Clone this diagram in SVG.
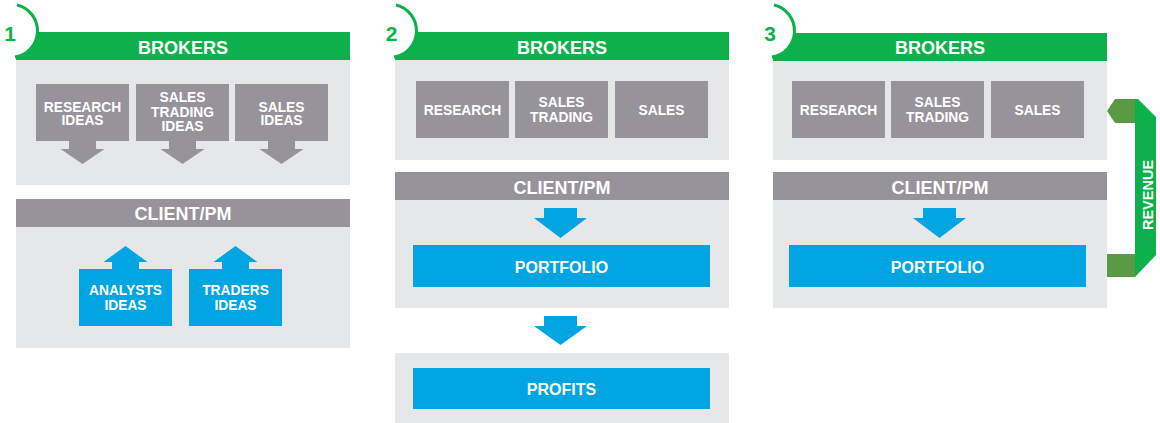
<svg xmlns="http://www.w3.org/2000/svg" width="1160" height="423" viewBox="0 0 1160 423">
<style>
.hdrG{fill:#0db14b}
.hdrP{fill:#97939b}
.bg{fill:#e6e7e9}
.box{fill:#97939b}
.blue{fill:#00a5e1}
.arc{fill:none;stroke:#0db14b;stroke-width:3}
.cut{fill:#fff}
.num{font-family:"Liberation Sans",Arial,sans-serif;font-weight:bold;font-size:21px;fill:#0db14b;text-anchor:middle}
.ht{font-family:"Liberation Sans",Arial,sans-serif;font-weight:bold;font-size:18px;fill:#fff;text-anchor:middle}
.bt{font-family:"Liberation Sans",Arial,sans-serif;font-weight:bold;font-size:13.8px;fill:#fff;text-anchor:middle}
.pt{font-family:"Liberation Sans",Arial,sans-serif;font-weight:bold;font-size:16px;fill:#fff;text-anchor:middle}
.rt{font-family:"Liberation Sans",Arial,sans-serif;font-weight:bold;font-size:14.5px;fill:#fff;text-anchor:middle}
.ga{fill:#97939b}
.ba{fill:#00a5e1}
</style>

<!-- Panel 1 -->
<g id="p1-brokers">
<rect class="bg" x="16" y="60" width="334" height="125"/>
<rect class="hdrG" x="16" y="32" width="334" height="28"/>
<text class="ht" x="183" y="54">BROKERS</text>
</g>
<g id="panel1-label">
<path class="cut" d="M17,5 A26.5,26.5 0 0 1 15,57 L0,57 L0,5 Z"/>
<path class="arc" d="M17,5 A26.5,26.5 0 0 1 15,57"/>
<text class="num" x="10" y="41">1</text>
</g>
<g id="p1-research">
<rect class="box" x="36" y="84" width="93" height="57"/>
<text class="bt" x="82.5" y="111.5">RESEARCH</text>
<text class="bt" x="82.5" y="125">IDEAS</text>
</g>
<g id="p1-salestrading">
<rect class="box" x="136" y="84" width="93" height="57"/>
<text class="bt" x="182.5" y="102">SALES</text>
<text class="bt" x="182.5" y="116.5">TRADING</text>
<text class="bt" x="182.5" y="131">IDEAS</text>
</g>
<g id="p1-sales">
<rect class="box" x="235" y="84" width="93" height="57"/>
<text class="bt" x="281.5" y="111.5">SALES</text>
<text class="bt" x="281.5" y="125">IDEAS</text>
</g>
<g id="p1-client">
<rect class="bg" x="16" y="227" width="334" height="121"/>
<rect class="hdrP" x="16" y="199" width="334" height="28"/>
<text class="ht" x="183" y="220">CLIENT/PM</text>
</g>
<g id="p1-analysts">
<rect class="blue" x="79" y="269" width="93" height="57"/>
<text class="bt" x="125.5" y="295">ANALYSTS</text>
<text class="bt" x="125.5" y="309.5">IDEAS</text>
</g>
<g id="p1-traders">
<rect class="blue" x="189" y="269" width="93" height="57"/>
<text class="bt" x="235.5" y="295">TRADERS</text>
<text class="bt" x="235.5" y="309.5">IDEAS</text>
</g>

<!-- Panel 2 -->
<g id="p2-brokers">
<rect class="bg" x="395" y="60" width="334" height="100"/>
<rect class="hdrG" x="395" y="32" width="334" height="28"/>
<text class="ht" x="562" y="54">BROKERS</text>
</g>
<g id="panel2-label">
<path class="cut" d="M396,5 A26.5,26.5 0 0 1 394,57 L379,57 L379,5 Z"/>
<path class="arc" d="M396,5 A26.5,26.5 0 0 1 394,57"/>
<text class="num" x="391.5" y="41">2</text>
</g>
<g id="p2-research">
<rect class="box" x="416" y="81" width="93" height="57"/>
<text class="bt" x="462.5" y="115">RESEARCH</text>
</g>
<g id="p2-salestrading">
<rect class="box" x="515" y="81" width="93" height="57"/>
<text class="bt" x="561.5" y="107">SALES</text>
<text class="bt" x="561.5" y="122">TRADING</text>
</g>
<g id="p2-sales">
<rect class="box" x="615" y="81" width="93" height="57"/>
<text class="bt" x="661.5" y="115">SALES</text>
</g>
<g id="p2-client">
<rect class="bg" x="395" y="200" width="334" height="108"/>
<rect class="hdrP" x="395" y="172" width="334" height="28"/>
<text class="ht" x="562" y="194">CLIENT/PM</text>
</g>
<g id="p2-portfolio">
<rect class="blue" x="413" y="245" width="297" height="42"/>
<text class="pt" x="561.5" y="273">PORTFOLIO</text>
</g>
<g id="p2-profits">
<rect class="bg" x="395" y="353" width="334" height="70"/>
<rect class="blue" x="413" y="368" width="297" height="41"/>
<text class="pt" x="561.5" y="395">PROFITS</text>
</g>

<!-- Panel 3 -->
<g id="p3-brokers">
<rect class="bg" x="773" y="61" width="334" height="99"/>
<rect class="hdrG" x="773" y="33" width="334" height="28"/>
<text class="ht" x="940" y="54">BROKERS</text>
</g>
<g id="panel3-label">
<path class="cut" d="M774,5 A26.5,26.5 0 0 1 772,57 L757,57 L757,5 Z"/>
<path class="arc" d="M774,5 A26.5,26.5 0 0 1 772,57"/>
<text class="num" x="770" y="41">3</text>
</g>
<g id="p3-research">
<rect class="box" x="792" y="81" width="93" height="57"/>
<text class="bt" x="838.5" y="115">RESEARCH</text>
</g>
<g id="p3-salestrading">
<rect class="box" x="891" y="81" width="93" height="57"/>
<text class="bt" x="937.5" y="107">SALES</text>
<text class="bt" x="937.5" y="122">TRADING</text>
</g>
<g id="p3-sales">
<rect class="box" x="991" y="81" width="93" height="57"/>
<text class="bt" x="1037.5" y="115">SALES</text>
</g>
<g id="p3-client">
<rect class="bg" x="773" y="200" width="334" height="108"/>
<rect class="hdrP" x="773" y="172" width="334" height="28"/>
<text class="ht" x="940" y="194">CLIENT/PM</text>
</g>
<g id="p3-portfolio">
<rect class="blue" x="789" y="245" width="297" height="42"/>
<text class="pt" x="937.5" y="273">PORTFOLIO</text>
</g>

<!-- Connectors -->
<g id="connectors">
<polygon class="ga" points="69,141 96,141 96,149 104.5,149 82.5,164 60.5,149 69,149"/>
<polygon class="ga" points="169,141 196,141 196,149 204.5,149 182.5,164 160.5,149 169,149"/>
<polygon class="ga" points="268,141 295,141 295,149 303.5,149 281.5,164 259.5,149 268,149"/>
<polygon class="ba" points="112,269 139,269 139,262 147.5,262 125.5,246 103.5,262 112,262"/>
<polygon class="ba" points="222,269 249,269 249,262 257.5,262 235.5,246 213.5,262 222,262"/>
<polygon class="ba" points="544,208 577,208 577,218 587,218 560.5,238 534,218 544,218"/>
<polygon class="ba" points="544,316 577,316 577,326 587,326 560.5,345 534,326 544,326"/>
<polygon class="ba" points="923,208 956,208 956,218 966,218 939.5,238 913,218 923,218"/>
<g id="revenue">
<rect x="1107" y="254" width="28" height="23" fill="#5b9a45"/>
<polygon points="1135,99 1138,99 1156,117 1156,255 1135,277" fill="#0db14b"/>
<polygon points="1107,111 1115,99 1135,99 1135,123 1115,123" fill="#5b9a45"/>
<text class="rt" transform="translate(1153,195) rotate(-90)">REVENUE</text>
</g>
</g>
</svg>
